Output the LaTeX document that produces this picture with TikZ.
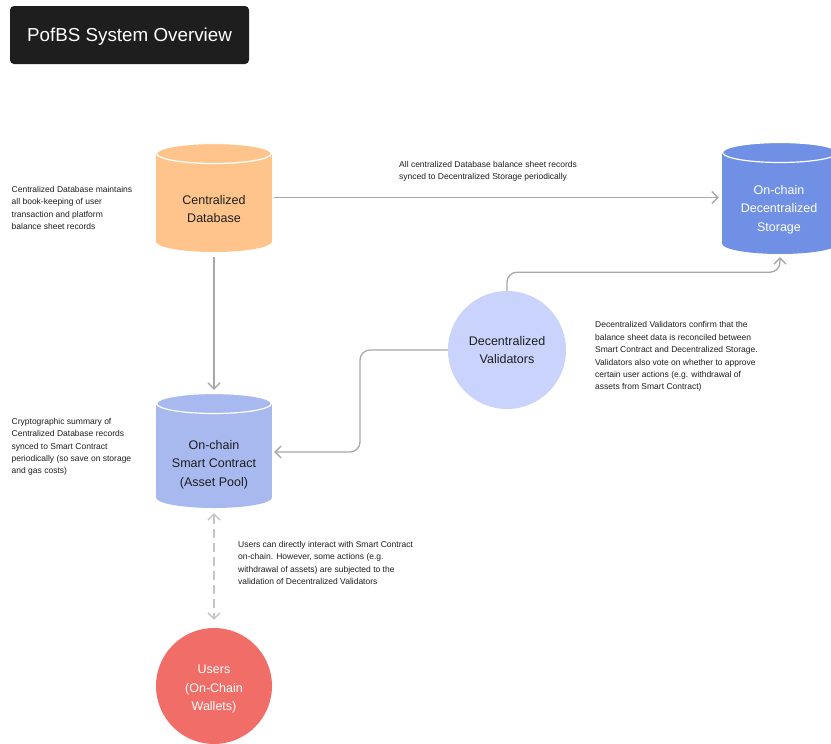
\documentclass[tikz,border=0pt]{standalone}
\usepackage{fontspec}
\setmainfont{Liberation Sans}
\usetikzlibrary{arrows.meta,calc}
\definecolor{titlebg}{HTML}{1E1E1E}
\definecolor{dborange}{HTML}{FFC48C}
\definecolor{stoblue}{HTML}{7090E6}
\definecolor{scblue}{HTML}{A8B9EF}
\definecolor{valblue}{HTML}{C9D3FB}
\definecolor{usrred}{HTML}{F16E68}
\definecolor{conngrey}{HTML}{A8A8A8}
\definecolor{dashgrey}{HTML}{C4C4C4}
\definecolor{txt}{HTML}{1E1E1E}
\tikzset{
  note/.style={anchor=north west, inner sep=0pt, align=left, text=txt,
    font=\fontsize{8.5}{12.4}\selectfont},
  biglabel/.style={inner sep=0pt, align=center,
    font=\fontsize{12.5}{18.5}\selectfont},
  cylbox/.style={inner sep=0pt, minimum width=116pt},
  roundnode/.style={circle, inner sep=0pt, minimum size=117pt},
  conn/.style={draw=conngrey, line width=1.3pt,
    -{Straight Barb[length=6pt,width=12pt,line width=1.3pt]}},
  dashconn/.style={draw=dashgrey, line width=1.3pt, dash pattern=on 9pt off 5pt,
    {Straight Barb[length=6pt,width=12pt,line width=1.3pt]}-{Straight Barb[length=6pt,width=12pt,line width=1.3pt]}},
}
% #1 name, #2 centre x, #3 top y, #4 bottom y, #5 colour
\newcommand\dbcyl[5]{%
  \fill[#5] (#2-58,#3+10.5) rectangle (#2+58,#4-10.5);
  \fill[#5] (#2,#4-10.5) ellipse[x radius=58pt, y radius=10.5pt];
  \filldraw[fill=#5, draw=white, line width=1.2pt] (#2,#3+10.5) ellipse[x radius=57.4pt, y radius=10pt];
  \path (#2-58,#3) rectangle (#2+58,#4) node[midway, cylbox, minimum height=#4pt-#3pt] (#1) {};
}
\begin{document}
\begin{tikzpicture}[x=1pt,y=-1pt]
\clip (0,0) rectangle (831,744);
\fill[white] (0,0) rectangle (831,744);

% title
\node[fill=titlebg, rounded corners=4pt, minimum width=239pt, minimum height=58pt,
  text=white, font=\fontsize{18.8}{22}\selectfont, inner sep=0pt, text depth=0pt] (title) at (129.5,35) {PofBS System Overview};

% cylinders
\dbcyl{cdb}{214}{143}{252}{dborange}
\node[biglabel, text=txt] (cdbt) at (214,209) {Centralized\\Database};

\dbcyl{sto}{780}{142}{254}{stoblue}
\node[biglabel, text=white] (stot) at (779,209.5) {On-chain\\Decentralized\\Storage};

\dbcyl{sc}{214}{393}{508}{scblue}
\node[biglabel, text=txt] (sct) at (214,464.5) {On-chain\\Smart Contract\\(Asset Pool)};

% circles
\node[roundnode, fill=valblue, text=txt, biglabel, minimum size=118pt] (val) at (507,350) {Decentralized\\Validators};
\node[roundnode, fill=usrred, text=white, biglabel, minimum size=116pt] (usr) at (214,686) {};
\node[biglabel, text=white] (usrt) at (214,689) {Users\\(On-Chain\\Wallets)};

% connectors
\draw[conn, shorten <=2pt, shorten >=3pt] (cdb.east) -- (cdb.east -| sto.west);
\draw[conn, shorten <=5pt, shorten >=3pt] (cdb.south) -- (sc.north);
\draw[conn, rounded corners=10pt, shorten >=3pt] (val.north) |- ([yshift=-18pt]sto.south) -- (sto.south);
\draw[conn, rounded corners=10pt, shorten >=2pt] (val.west) -| ($(val.west)!0.5!(sc.east)$) |- ([yshift=-1.5pt]sc.east);
\draw[dashconn, shorten <=5pt, shorten >=8pt] (sc.south) -- (usr.north);

% notes
\node[note] (n1) at (11.5,186) {Centralized Database maintains\\all book-keeping of user\\transaction and platform\\balance sheet records};
\node[note] (n2) at (399,161) {All centralized Database balance sheet records\\synced to Decentralized Storage periodically};
\node[note] (n3) at (11.5,418) {Cryptographic summary of\\Centralized Database records\\synced to Smart Contract\\periodically (so save on storage\\and gas costs)};
\node[note] (n4) at (595,321.5) {Decentralized Validators confirm that the\\balance sheet data is reconciled between\\Smart Contract and Decentralized Storage.\\Validators also vote on whether to approve\\certain user actions (e.g. withdrawal of\\assets from Smart Contract)};
\node[note] (n5) at (238,541) {Users can directly interact with Smart Contract\\on-chain. However, some actions (e.g.\\withdrawal of assets) are subjected to the\\validation of Decentralized Validators};
\end{tikzpicture}
\end{document}
